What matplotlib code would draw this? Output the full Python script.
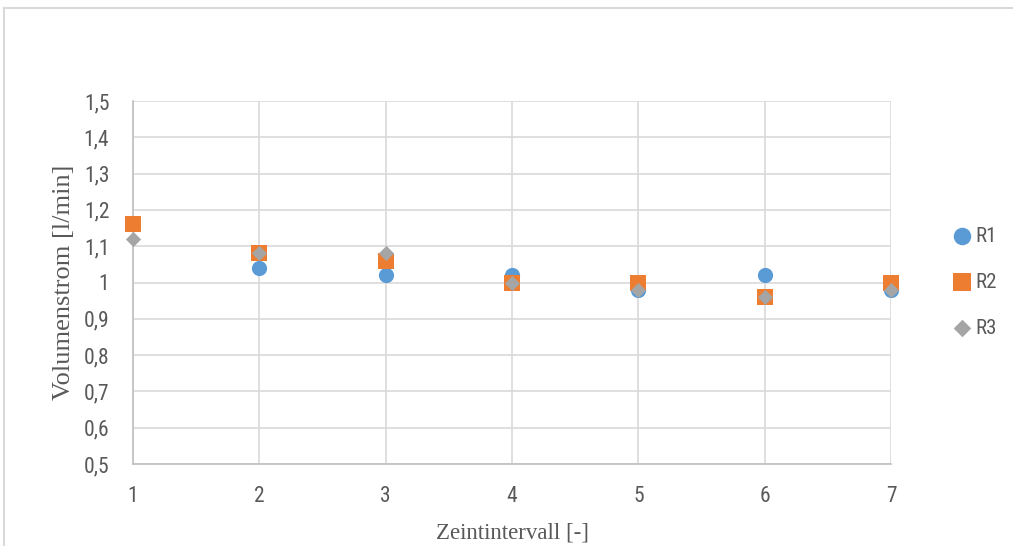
import matplotlib
matplotlib.use("Agg")
import matplotlib.pyplot as plt
from matplotlib.lines import Line2D
from matplotlib.ticker import FuncFormatter, MultipleLocator
from matplotlib import font_manager

intervals = [1, 2, 3, 4, 5, 6, 7]
r1 = [1.16, 1.04, 1.02, 1.02, 0.98, 1.02, 0.98]
r2 = [1.16, 1.08, 1.06, 1.00, 1.00, 0.96, 1.00]
r3 = [1.12, 1.08, 1.08, 1.00, 0.98, 0.96, 0.98]
series_names = ["R1", "R2", "R3"]

installed = {f.name for f in font_manager.fontManager.ttflist}
tick_font = next((f for f in ["Roboto Condensed", "Open Sans Condensed", "Liberation Sans Narrow", "Roboto"]
                  if f in installed), "DejaVu Sans")
title_font = "Liberation Serif"

fig = plt.figure(figsize=(10.13, 5.46), dpi=100)
ax = fig.add_axes([133 / 1013, 82 / 546, 758 / 1013, 363 / 546])

ax.scatter(intervals, r1, marker="o", s=120, color="#5B9BD5", zorder=3, label=series_names[0],
           linewidths=0, clip_on=False)
ax.scatter(intervals, r2, marker="s", s=120, color="#ED7D31", zorder=4, label=series_names[1],
           linewidths=0, clip_on=False)
ax.scatter(intervals, r3, marker="D", s=60, color="#A5A5A5", zorder=5, label=series_names[2],
           linewidths=0, clip_on=False)

ax.set_xlim(1, 7)
ax.set_ylim(0.5, 1.5)
ax.xaxis.set_major_locator(MultipleLocator(1))
ax.yaxis.set_major_locator(MultipleLocator(0.1))
ax.yaxis.set_major_formatter(FuncFormatter(lambda v, p: f"{round(v, 2):g}".replace(".", ",")))
ax.grid(True, color="#D9D9D9", linewidth=1.2, zorder=0)
ax.set_axisbelow(True)
for side in ["top", "right"]:
    ax.spines[side].set_visible(False)
for side in ["left", "bottom"]:
    ax.spines[side].set_color("#BFBFBF")
    ax.spines[side].set_linewidth(1.2)
ax.tick_params(length=0, labelsize=15.5, labelcolor="#595959")
ax.tick_params(axis="y", pad=17)
ax.tick_params(axis="x", pad=16)
for lab in ax.get_xticklabels() + ax.get_yticklabels():
    lab.set_fontfamily(tick_font)

ax.set_xlabel("Zeintintervall [-]", fontfamily=title_font, fontsize=16.5, color="#595959", labelpad=11)
ax.set_ylabel("Volumenstrom [l/min]", fontfamily=title_font, fontsize=19, color="#595959", labelpad=6)

leg = fig.legend(loc="upper left", bbox_to_anchor=(931 / 1013, 1 - 208 / 546), frameon=False,
                 labelspacing=1.3, handletextpad=0.05, handlelength=1.2, markerscale=1.15,
                 prop={"family": tick_font, "size": 15})
for t in leg.get_texts():
    t.set_color("#595959")

fig.add_artist(Line2D([3.5 / 1013, 1], [1 - 8 / 546, 1 - 8 / 546], transform=fig.transFigure,
                      color="#D9D9D9", linewidth=1.5))
fig.add_artist(Line2D([3.5 / 1013, 3.5 / 1013], [0, 1 - 8 / 546], transform=fig.transFigure,
                      color="#D9D9D9", linewidth=1.5))

fig.savefig("out.png", dpi=100)
